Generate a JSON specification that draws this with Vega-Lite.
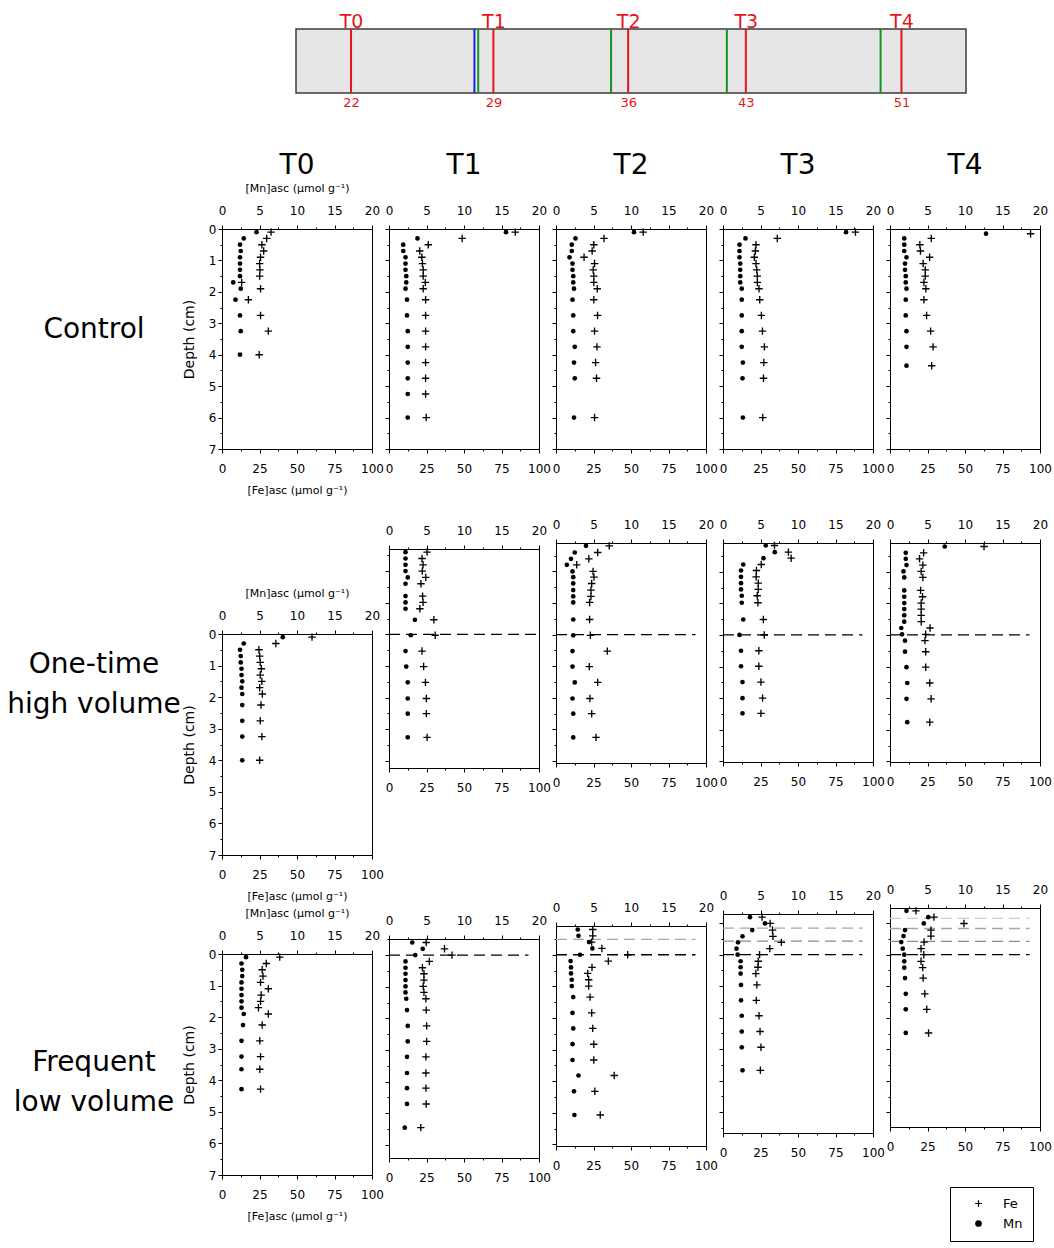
{
"$schema":"https://vega.github.io/schema/vega-lite/v6.json",
"background":"white",
"padding":{"left":0,"top":11,"right":0,"bottom":0},
"datasets":{
"events":[
{"kind":"sample","pos":22.0},{"kind":"sample","pos":29.5},{"kind":"sample","pos":36.6},{"kind":"sample","pos":42.8},{"kind":"sample","pos":51.0},
{"kind":"high","pos":28.5},
{"kind":"low","pos":28.7},{"kind":"low","pos":35.7},{"kind":"low","pos":41.8},{"kind":"low","pos":49.9}
],
"lines":[
{"p":"O1","d":0,"tone":"k"},{"p":"O2","d":0,"tone":"k"},{"p":"O3","d":0,"tone":"k"},{"p":"O4","d":0,"tone":"k"},
{"p":"F1","d":0,"tone":"k"},
{"p":"F2","d":-0.49,"tone":"g2"},{"p":"F2","d":0,"tone":"k"},
{"p":"F3","d":-0.84,"tone":"g2"},{"p":"F3","d":-0.43,"tone":"g3"},{"p":"F3","d":0,"tone":"k"},
{"p":"F4","d":-1.15,"tone":"g1"},{"p":"F4","d":-0.83,"tone":"g2"},{"p":"F4","d":-0.42,"tone":"g3"},{"p":"F4","d":0,"tone":"k"}
],
"pts":[
{"p":"C0","d":0.1,"mn":4.6,"fe":32.7},{"p":"C0","d":0.3,"mn":2.9,"fe":29.8},{"p":"C0","d":0.5,"mn":2.4,"fe":26.6},{"p":"C0","d":0.7,"mn":2.5,"fe":27.8},{"p":"C0","d":0.9,"mn":2.4,"fe":25.7},{"p":"C0","d":1.1,"mn":2.4,"fe":25.1},{"p":"C0","d":1.3,"mn":2.4,"fe":25.3},{"p":"C0","d":1.5,"mn":2.4,"fe":25.1},{"p":"C0","d":1.7,"mn":1.5,"fe":13.1},{"p":"C0","d":1.9,"mn":2.5,"fe":25.7},{"p":"C0","d":2.25,"mn":1.8,"fe":17.6},{"p":"C0","d":2.75,"mn":2.4,"fe":25.7},{"p":"C0","d":3.25,"mn":2.5,"fe":30.9},{"p":"C0","d":4.0,"mn":2.4,"fe":24.8},
{"p":"C1","d":0.1,"mn":15.6,"fe":84.2},{"p":"C1","d":0.3,"mn":3.8,"fe":48.8},{"p":"C1","d":0.5,"mn":1.9,"fe":26.2},{"p":"C1","d":0.7,"mn":1.9,"fe":20.5},{"p":"C1","d":0.9,"mn":2.2,"fe":21.9},{"p":"C1","d":1.1,"mn":2.2,"fe":22.3},{"p":"C1","d":1.3,"mn":2.2,"fe":22.8},{"p":"C1","d":1.5,"mn":2.3,"fe":22.8},{"p":"C1","d":1.7,"mn":2.3,"fe":24.2},{"p":"C1","d":1.9,"mn":2.2,"fe":22.8},{"p":"C1","d":2.25,"mn":2.4,"fe":24.4},{"p":"C1","d":2.75,"mn":2.4,"fe":24.4},{"p":"C1","d":3.25,"mn":2.5,"fe":24.4},{"p":"C1","d":3.75,"mn":2.5,"fe":24.4},{"p":"C1","d":4.25,"mn":2.5,"fe":24.4},{"p":"C1","d":4.75,"mn":2.5,"fe":24.4},{"p":"C1","d":5.25,"mn":2.5,"fe":24.4},{"p":"C1","d":6.0,"mn":2.5,"fe":24.8},
{"p":"C2","d":0.1,"mn":10.4,"fe":58.1},{"p":"C2","d":0.3,"mn":2.6,"fe":32.0},{"p":"C2","d":0.5,"mn":2.1,"fe":25.2},{"p":"C2","d":0.7,"mn":2.1,"fe":24.1},{"p":"C2","d":0.9,"mn":1.8,"fe":18.7},{"p":"C2","d":1.1,"mn":2.2,"fe":25.7},{"p":"C2","d":1.3,"mn":2.2,"fe":24.8},{"p":"C2","d":1.5,"mn":2.3,"fe":25.2},{"p":"C2","d":1.7,"mn":2.3,"fe":25.2},{"p":"C2","d":1.9,"mn":2.4,"fe":27.5},{"p":"C2","d":2.25,"mn":2.2,"fe":25.2},{"p":"C2","d":2.75,"mn":2.3,"fe":27.7},{"p":"C2","d":3.25,"mn":2.3,"fe":25.7},{"p":"C2","d":3.75,"mn":2.5,"fe":27.3},{"p":"C2","d":4.25,"mn":2.4,"fe":26.4},{"p":"C2","d":4.75,"mn":2.5,"fe":27.0},{"p":"C2","d":6.0,"mn":2.4,"fe":25.7},
{"p":"C3","d":0.1,"mn":16.4,"fe":88.3},{"p":"C3","d":0.3,"mn":3.0,"fe":36.2},{"p":"C3","d":0.5,"mn":2.2,"fe":22.0},{"p":"C3","d":0.7,"mn":2.2,"fe":21.6},{"p":"C3","d":0.9,"mn":2.2,"fe":20.9},{"p":"C3","d":1.1,"mn":2.3,"fe":22.0},{"p":"C3","d":1.3,"mn":2.3,"fe":22.5},{"p":"C3","d":1.5,"mn":2.3,"fe":22.9},{"p":"C3","d":1.7,"mn":2.3,"fe":22.9},{"p":"C3","d":1.9,"mn":2.5,"fe":24.0},{"p":"C3","d":2.25,"mn":2.5,"fe":24.5},{"p":"C3","d":2.75,"mn":2.5,"fe":25.6},{"p":"C3","d":3.25,"mn":2.5,"fe":26.3},{"p":"C3","d":3.75,"mn":2.5,"fe":27.6},{"p":"C3","d":4.25,"mn":2.65,"fe":27.2},{"p":"C3","d":4.75,"mn":2.6,"fe":27.0},{"p":"C3","d":6.0,"mn":2.65,"fe":26.5},
{"p":"C4","d":0.15,"mn":12.8,"fe":93.7},{"p":"C4","d":0.3,"mn":1.9,"fe":27.5},{"p":"C4","d":0.5,"mn":1.9,"fe":19.9},{"p":"C4","d":0.7,"mn":1.9,"fe":20.3},{"p":"C4","d":0.9,"mn":2.2,"fe":26.4},{"p":"C4","d":1.1,"mn":2.0,"fe":22.1},{"p":"C4","d":1.3,"mn":2.0,"fe":23.5},{"p":"C4","d":1.5,"mn":2.1,"fe":23.5},{"p":"C4","d":1.7,"mn":2.1,"fe":22.6},{"p":"C4","d":1.9,"mn":2.2,"fe":23.9},{"p":"C4","d":2.25,"mn":2.1,"fe":22.6},{"p":"C4","d":2.75,"mn":2.1,"fe":24.4},{"p":"C4","d":3.25,"mn":2.2,"fe":27.1},{"p":"C4","d":3.75,"mn":2.2,"fe":28.7},{"p":"C4","d":4.35,"mn":2.2,"fe":27.8},
{"p":"O0","d":0.1,"mn":8.1,"fe":60.0},{"p":"O0","d":0.3,"mn":2.9,"fe":35.9},{"p":"O0","d":0.5,"mn":2.4,"fe":24.6},{"p":"O0","d":0.7,"mn":2.5,"fe":25.1},{"p":"O0","d":0.9,"mn":2.5,"fe":25.5},{"p":"O0","d":1.1,"mn":2.6,"fe":26.2},{"p":"O0","d":1.3,"mn":2.6,"fe":25.5},{"p":"O0","d":1.5,"mn":2.7,"fe":26.6},{"p":"O0","d":1.7,"mn":2.6,"fe":25.1},{"p":"O0","d":1.9,"mn":2.7,"fe":26.9},{"p":"O0","d":2.25,"mn":2.7,"fe":26.0},{"p":"O0","d":2.75,"mn":2.7,"fe":25.5},{"p":"O0","d":3.25,"mn":2.7,"fe":26.6},{"p":"O0","d":4.0,"mn":2.7,"fe":25.1},
{"p":"O1","d":-2.6,"mn":2.2,"fe":25.4},{"p":"O1","d":-2.4,"mn":2.2,"fe":22.0},{"p":"O1","d":-2.2,"mn":2.2,"fe":22.7},{"p":"O1","d":-2.0,"mn":2.2,"fe":22.2},{"p":"O1","d":-1.8,"mn":2.5,"fe":24.5},{"p":"O1","d":-1.6,"mn":2.2,"fe":21.3},{"p":"O1","d":-1.21,"mn":2.2,"fe":22.4},{"p":"O1","d":-1.01,"mn":2.2,"fe":22.7},{"p":"O1","d":-0.81,"mn":2.2,"fe":20.6},{"p":"O1","d":-0.46,"mn":3.45,"fe":29.9},{"p":"O1","d":0.03,"mn":2.9,"fe":30.8},{"p":"O1","d":0.53,"mn":2.2,"fe":22.0},{"p":"O1","d":1.02,"mn":2.3,"fe":23.1},{"p":"O1","d":1.52,"mn":2.5,"fe":24.3},{"p":"O1","d":2.03,"mn":2.5,"fe":24.9},{"p":"O1","d":2.51,"mn":2.5,"fe":24.9},{"p":"O1","d":3.26,"mn":2.5,"fe":25.4},
{"p":"O2","d":-2.81,"mn":4.0,"fe":35.5},{"p":"O2","d":-2.6,"mn":2.5,"fe":27.8},{"p":"O2","d":-2.4,"mn":2.0,"fe":21.9},{"p":"O2","d":-2.21,"mn":1.45,"fe":13.8},{"p":"O2","d":-2.0,"mn":2.2,"fe":24.7},{"p":"O2","d":-1.82,"mn":2.3,"fe":25.3},{"p":"O2","d":-1.62,"mn":2.3,"fe":23.8},{"p":"O2","d":-1.41,"mn":2.3,"fe":23.3},{"p":"O2","d":-1.21,"mn":2.3,"fe":23.3},{"p":"O2","d":-1.02,"mn":2.3,"fe":22.4},{"p":"O2","d":-0.48,"mn":2.3,"fe":22.4},{"p":"O2","d":0.02,"mn":2.3,"fe":22.9},{"p":"O2","d":0.52,"mn":2.2,"fe":34.2},{"p":"O2","d":1.01,"mn":2.2,"fe":22.2},{"p":"O2","d":1.51,"mn":2.5,"fe":27.8},{"p":"O2","d":2.02,"mn":2.2,"fe":22.6},{"p":"O2","d":2.5,"mn":2.3,"fe":23.8},{"p":"O2","d":3.25,"mn":2.3,"fe":26.7},
{"p":"O3","d":-2.83,"mn":5.7,"fe":34.3},{"p":"O3","d":-2.62,"mn":6.9,"fe":43.6},{"p":"O3","d":-2.43,"mn":5.4,"fe":45.4},{"p":"O3","d":-2.23,"mn":2.7,"fe":25.5},{"p":"O3","d":-2.04,"mn":2.4,"fe":22.3},{"p":"O3","d":-1.84,"mn":2.4,"fe":22.1},{"p":"O3","d":-1.64,"mn":2.4,"fe":23.5},{"p":"O3","d":-1.44,"mn":2.4,"fe":23.5},{"p":"O3","d":-1.24,"mn":2.5,"fe":22.8},{"p":"O3","d":-1.02,"mn":2.5,"fe":23.3},{"p":"O3","d":-0.49,"mn":2.7,"fe":26.9},{"p":"O3","d":0.0,"mn":2.2,"fe":27.5},{"p":"O3","d":0.5,"mn":2.4,"fe":23.9},{"p":"O3","d":0.99,"mn":2.4,"fe":23.9},{"p":"O3","d":1.49,"mn":2.6,"fe":25.3},{"p":"O3","d":2.0,"mn":2.6,"fe":26.4},{"p":"O3","d":2.48,"mn":2.6,"fe":25.3},
{"p":"O4","d":-2.8,"mn":7.3,"fe":62.7},{"p":"O4","d":-2.6,"mn":2.1,"fe":22.4},{"p":"O4","d":-2.41,"mn":2.1,"fe":19.7},{"p":"O4","d":-2.21,"mn":2.2,"fe":21.9},{"p":"O4","d":-2.01,"mn":1.8,"fe":20.8},{"p":"O4","d":-1.82,"mn":1.9,"fe":21.9},{"p":"O4","d":-1.41,"mn":1.9,"fe":20.4},{"p":"O4","d":-1.21,"mn":1.9,"fe":21.7},{"p":"O4","d":-1.01,"mn":1.9,"fe":20.8},{"p":"O4","d":-0.82,"mn":1.9,"fe":20.8},{"p":"O4","d":-0.62,"mn":1.9,"fe":20.8},{"p":"O4","d":-0.42,"mn":1.9,"fe":20.8},{"p":"O4","d":-0.22,"mn":1.5,"fe":26.7},{"p":"O4","d":-0.02,"mn":1.6,"fe":23.8},{"p":"O4","d":0.18,"mn":2.0,"fe":23.3},{"p":"O4","d":0.53,"mn":2.0,"fe":23.8},{"p":"O4","d":1.02,"mn":2.2,"fe":23.8},{"p":"O4","d":1.52,"mn":2.3,"fe":26.5},{"p":"O4","d":2.02,"mn":2.2,"fe":27.4},{"p":"O4","d":2.76,"mn":2.3,"fe":26.5},
{"p":"F0","d":0.1,"mn":3.2,"fe":38.5},{"p":"F0","d":0.3,"mn":2.6,"fe":29.5},{"p":"F0","d":0.5,"mn":2.7,"fe":26.8},{"p":"F0","d":0.7,"mn":2.7,"fe":27.3},{"p":"F0","d":0.9,"mn":2.6,"fe":25.7},{"p":"F0","d":1.1,"mn":2.6,"fe":30.9},{"p":"F0","d":1.3,"mn":2.6,"fe":26.1},{"p":"F0","d":1.5,"mn":2.6,"fe":25.7},{"p":"F0","d":1.7,"mn":2.6,"fe":24.3},{"p":"F0","d":1.9,"mn":2.9,"fe":30.9},{"p":"F0","d":2.25,"mn":2.8,"fe":26.8},{"p":"F0","d":2.75,"mn":2.6,"fe":25.2},{"p":"F0","d":3.25,"mn":2.6,"fe":25.7},{"p":"F0","d":3.65,"mn":2.6,"fe":25.2},{"p":"F0","d":4.28,"mn":2.6,"fe":25.7},
{"p":"F1","d":-0.4,"mn":3.1,"fe":24.8},{"p":"F1","d":-0.2,"mn":4.5,"fe":37.0},{"p":"F1","d":0.0,"mn":3.5,"fe":42.0},{"p":"F1","d":0.2,"mn":2.2,"fe":26.9},{"p":"F1","d":0.4,"mn":2.2,"fe":22.3},{"p":"F1","d":0.59,"mn":2.2,"fe":23.3},{"p":"F1","d":0.79,"mn":2.2,"fe":23.3},{"p":"F1","d":0.99,"mn":2.2,"fe":22.8},{"p":"F1","d":1.18,"mn":2.2,"fe":23.3},{"p":"F1","d":1.38,"mn":2.3,"fe":24.6},{"p":"F1","d":1.74,"mn":2.4,"fe":24.8},{"p":"F1","d":2.24,"mn":2.5,"fe":25.1},{"p":"F1","d":2.73,"mn":2.5,"fe":25.1},{"p":"F1","d":3.22,"mn":2.4,"fe":24.6},{"p":"F1","d":3.73,"mn":2.4,"fe":24.6},{"p":"F1","d":4.21,"mn":2.4,"fe":24.6},{"p":"F1","d":4.71,"mn":2.4,"fe":24.8},{"p":"F1","d":5.46,"mn":2.1,"fe":21.2},
{"p":"F2","d":-0.8,"mn":2.9,"fe":24.5},{"p":"F2","d":-0.6,"mn":3.0,"fe":24.5},{"p":"F2","d":-0.4,"mn":4.4,"fe":23.8},{"p":"F2","d":-0.2,"mn":4.85,"fe":30.6},{"p":"F2","d":0.0,"mn":3.2,"fe":47.8},{"p":"F2","d":0.2,"mn":1.95,"fe":34.9},{"p":"F2","d":0.4,"mn":2.0,"fe":24.0},{"p":"F2","d":0.59,"mn":2.0,"fe":21.1},{"p":"F2","d":0.79,"mn":2.1,"fe":21.8},{"p":"F2","d":0.99,"mn":2.1,"fe":21.8},{"p":"F2","d":1.34,"mn":2.3,"fe":22.7},{"p":"F2","d":1.84,"mn":2.2,"fe":23.8},{"p":"F2","d":2.33,"mn":2.3,"fe":24.5},{"p":"F2","d":2.83,"mn":2.2,"fe":25.2},{"p":"F2","d":3.33,"mn":2.2,"fe":25.2},{"p":"F2","d":3.82,"mn":3.0,"fe":38.8},{"p":"F2","d":4.32,"mn":2.4,"fe":25.9},{"p":"F2","d":5.07,"mn":2.45,"fe":29.5},
{"p":"F3","d":-1.19,"mn":3.6,"fe":26.0},{"p":"F3","d":-0.99,"mn":5.6,"fe":31.4},{"p":"F3","d":-0.78,"mn":3.9,"fe":33.0},{"p":"F3","d":-0.58,"mn":2.6,"fe":33.3},{"p":"F3","d":-0.39,"mn":2.0,"fe":38.9},{"p":"F3","d":-0.19,"mn":1.8,"fe":31.2},{"p":"F3","d":0.0,"mn":1.95,"fe":24.4},{"p":"F3","d":0.21,"mn":2.35,"fe":23.5},{"p":"F3","d":0.4,"mn":2.35,"fe":23.3},{"p":"F3","d":0.6,"mn":2.35,"fe":21.9},{"p":"F3","d":0.96,"mn":2.4,"fe":22.6},{"p":"F3","d":1.45,"mn":2.4,"fe":22.2},{"p":"F3","d":1.94,"mn":2.5,"fe":24.0},{"p":"F3","d":2.44,"mn":2.5,"fe":24.7},{"p":"F3","d":2.94,"mn":2.5,"fe":25.3},{"p":"F3","d":3.67,"mn":2.6,"fe":24.9},
{"p":"F4","d":-1.39,"mn":2.2,"fe":17.3},{"p":"F4","d":-1.19,"mn":5.1,"fe":29.3},{"p":"F4","d":-0.99,"mn":4.5,"fe":49.3},{"p":"F4","d":-0.78,"mn":2.0,"fe":27.3},{"p":"F4","d":-0.59,"mn":1.8,"fe":27.3},{"p":"F4","d":-0.4,"mn":1.5,"fe":22.7},{"p":"F4","d":-0.19,"mn":1.7,"fe":20.7},{"p":"F4","d":0.0,"mn":1.9,"fe":22.5},{"p":"F4","d":0.21,"mn":1.9,"fe":20.7},{"p":"F4","d":0.41,"mn":1.9,"fe":21.8},{"p":"F4","d":0.74,"mn":2.0,"fe":22.1},{"p":"F4","d":1.24,"mn":2.1,"fe":23.2},{"p":"F4","d":1.73,"mn":2.1,"fe":24.5},{"p":"F4","d":2.48,"mn":2.1,"fe":25.7}
]
},
"vconcat":[
{"hconcat":[
 {"width":295,"height":10,"view":{"stroke":null},"data":{"values":[]},"mark":"point"},
 {"width":670,"height":64,"view":{"fill":"#e6e6e6","stroke":"#3c3c3c","strokeWidth":1.5},
  "data":{"name":"events"},
  "encoding":{"y":{"datum":0,"type":"quantitative","scale":{"domain":[0,1],"nice":false},"axis":null},"y2":{"datum":1}},
  "layer":[
   {"transform":[{"filter":"datum.kind==='high'"}],"mark":{"type":"rule","color":"#1f1fe6","strokeWidth":2},
    "encoding":{"x":{"field":"pos","type":"quantitative","scale":{"domain":[19.1,54.4],"nice":false,"zero":false},"axis":null}}},
   {"transform":[{"filter":"datum.kind==='low'"}],"mark":{"type":"rule","color":"#14961e","strokeWidth":2},
    "encoding":{"x":{"field":"pos","type":"quantitative","scale":{"domain":[19.1,54.4],"nice":false,"zero":false},
     "axis":{"orient":"bottom","values":[22,29.5,36.6,42.8,51],"labelExpr":"datum.value < 25 ? '22' : datum.value < 33 ? '29' : datum.value < 40 ? '36' : datum.value < 47 ? '43' : '51'","labelColor":"#e8141b","labelFontSize":13,"ticks":false,"domain":false,"labelPadding":3,"title":null}}}},
   {"transform":[{"filter":"datum.kind==='sample'"}],"mark":{"type":"rule","color":"#e8141b","strokeWidth":2},
    "encoding":{"x":{"field":"pos","type":"quantitative","scale":{"domain":[19.1,54.4],"nice":false,"zero":false},
     "axis":{"orient":"top","values":[22,29.5,36.6,42.8,51],"labelExpr":"datum.value < 25 ? 'T0' : datum.value < 33 ? 'T1' : datum.value < 40 ? 'T2' : datum.value < 47 ? 'T3' : 'T4'","labelColor":"#e8141b","labelFontSize":19,"labelBaseline":"alphabetic","ticks":false,"domain":false,"labelPadding":2,"title":null}}}}
  ],
  "resolve":{"axis":{"x":"independent"}}}
],"spacing":0},
{"hconcat":[
 {"vconcat":[
  {"width":180,"height":202,"view":{"stroke":null},"data":{"values":[{"r":"Control"}]},"mark":{"type":"text","fontSize":28,"font":"DejaVu Sans","color":"black","dx":4},"encoding":{"text":{"field":"r"}}},
  {"width":180,"height":468,"view":{"stroke":null},"data":{"values":[{"r":"One-time\nhigh volume"}]},"mark":{"type":"text","fontSize":28,"font":"DejaVu Sans","color":"black","lineBreak":"\n","lineHeight":40,"dx":4},"encoding":{"text":{"field":"r"}}},
  {"width":180,"height":328,"view":{"stroke":null},"data":{"values":[{"r":"Frequent\nlow volume"}]},"mark":{"type":"text","fontSize":28,"font":"DejaVu Sans","color":"black","lineBreak":"\n","lineHeight":40,"dx":4},"encoding":{"text":{"field":"r"}}}
 ],"spacing":0,"bounds":"flush"},
 {"vconcat":[
  {"width":150,"height":220,"title":"T0","data":{"name":"pts"},"transform":[{"filter":"datum.p==='C0'"}],
   "encoding":{"y":{"field":"d","type":"quantitative","scale":{"domain":[0,7],"reverse":true,"nice":false,"zero":false},"axis":{"values":[0,0.5,1,1.5,2,2.5,3,3.5,4,4.5,5,5.5,6,6.5,7],"labelExpr":"datum.value % 1 === 0 ? format(datum.value, 'd') : ''","tickSize":{"condition":{"test":"datum.value % 1 === 0","value":4},"value":2},"title":"Depth (cm)","titleFontSize":14,"titlePadding":12,"labelPadding":2}}},
   "layer":[
    {"mark":{"type":"point","shape":"circle","filled":true,"size":22,"color":"black","opacity":1},"encoding":{"x":{"field":"mn","type":"quantitative","scale":{"domain":[0,20],"nice":false,"zero":false},"axis":{"orient":"top","values":[0,2.5,5,7.5,10,12.5,15,17.5,20],"labelExpr":"datum.value % 5 === 0 ? datum.label : ''","tickSize":{"condition":{"test":"datum.value % 5 === 0","value":4},"value":2},"labelPadding":8,"title":"[Mn]asc (µmol g⁻¹)","titlePadding":11}}}},
    {"mark":{"type":"point","shape":"M-1,-0.18H-0.18V-1H0.18V-0.18H1V0.18H0.18V1H-0.18V0.18H-1Z","filled":true,"size":55,"color":"black","opacity":1},"encoding":{"x":{"field":"fe","type":"quantitative","scale":{"domain":[0,100],"nice":false,"zero":false},"axis":{"orient":"bottom","values":[0,12.5,25,37.5,50,62.5,75,87.5,100],"labelExpr":"datum.value % 25 === 0 ? datum.label : ''","tickSize":{"condition":{"test":"datum.value % 25 === 0","value":4},"value":2},"labelPadding":10,"title":"[Fe]asc (µmol g⁻¹)","titlePadding":10}}}}
   ],"resolve":{"scale":{"x":"independent"}}},
  {"width":150,"height":185,"view":{"stroke":null},"data":{"values":[]},"mark":"point"},
  {"width":150,"height":221,"data":{"name":"pts"},"transform":[{"filter":"datum.p==='O0'"}],
   "encoding":{"y":{"field":"d","type":"quantitative","scale":{"domain":[0,7],"reverse":true,"nice":false,"zero":false},"axis":{"values":[0,0.5,1,1.5,2,2.5,3,3.5,4,4.5,5,5.5,6,6.5,7],"labelExpr":"datum.value % 1 === 0 ? format(datum.value, 'd') : ''","tickSize":{"condition":{"test":"datum.value % 1 === 0","value":4},"value":2},"title":"Depth (cm)","titleFontSize":14,"titlePadding":12,"labelPadding":2}}},
   "layer":[
    {"mark":{"type":"point","shape":"circle","filled":true,"size":22,"color":"black","opacity":1},"encoding":{"x":{"field":"mn","type":"quantitative","scale":{"domain":[0,20],"nice":false,"zero":false},"axis":{"orient":"top","values":[0,2.5,5,7.5,10,12.5,15,17.5,20],"labelExpr":"datum.value % 5 === 0 ? datum.label : ''","tickSize":{"condition":{"test":"datum.value % 5 === 0","value":4},"value":2},"labelPadding":8,"title":"[Mn]asc (µmol g⁻¹)","titlePadding":11}}}},
    {"mark":{"type":"point","shape":"M-1,-0.18H-0.18V-1H0.18V-0.18H1V0.18H0.18V1H-0.18V0.18H-1Z","filled":true,"size":55,"color":"black","opacity":1},"encoding":{"x":{"field":"fe","type":"quantitative","scale":{"domain":[0,100],"nice":false,"zero":false},"axis":{"orient":"bottom","values":[0,12.5,25,37.5,50,62.5,75,87.5,100],"labelExpr":"datum.value % 25 === 0 ? datum.label : ''","tickSize":{"condition":{"test":"datum.value % 25 === 0","value":4},"value":2},"labelPadding":10,"title":"[Fe]asc (µmol g⁻¹)","titlePadding":10}}}}
   ],"resolve":{"scale":{"x":"independent"}}},
  {"width":150,"height":99,"view":{"stroke":null},"data":{"values":[]},"mark":"point"},
  {"width":150,"height":221,"data":{"name":"pts"},"transform":[{"filter":"datum.p==='F0'"}],
   "encoding":{"y":{"field":"d","type":"quantitative","scale":{"domain":[0,7],"reverse":true,"nice":false,"zero":false},"axis":{"values":[0,0.5,1,1.5,2,2.5,3,3.5,4,4.5,5,5.5,6,6.5,7],"labelExpr":"datum.value % 1 === 0 ? format(datum.value, 'd') : ''","tickSize":{"condition":{"test":"datum.value % 1 === 0","value":4},"value":2},"title":"Depth (cm)","titleFontSize":14,"titlePadding":12,"labelPadding":2}}},
   "layer":[
    {"mark":{"type":"point","shape":"circle","filled":true,"size":22,"color":"black","opacity":1},"encoding":{"x":{"field":"mn","type":"quantitative","scale":{"domain":[0,20],"nice":false,"zero":false},"axis":{"orient":"top","values":[0,2.5,5,7.5,10,12.5,15,17.5,20],"labelExpr":"datum.value % 5 === 0 ? datum.label : ''","tickSize":{"condition":{"test":"datum.value % 5 === 0","value":4},"value":2},"labelPadding":8,"title":"[Mn]asc (µmol g⁻¹)","titlePadding":11}}}},
    {"mark":{"type":"point","shape":"M-1,-0.18H-0.18V-1H0.18V-0.18H1V0.18H0.18V1H-0.18V0.18H-1Z","filled":true,"size":55,"color":"black","opacity":1},"encoding":{"x":{"field":"fe","type":"quantitative","scale":{"domain":[0,100],"nice":false,"zero":false},"axis":{"orient":"bottom","values":[0,12.5,25,37.5,50,62.5,75,87.5,100],"labelExpr":"datum.value % 25 === 0 ? datum.label : ''","tickSize":{"condition":{"test":"datum.value % 25 === 0","value":4},"value":2},"labelPadding":10,"title":"[Fe]asc (µmol g⁻¹)","titlePadding":10}}}}
   ],"resolve":{"scale":{"x":"independent"}}}
 ],"spacing":0,"bounds":"flush"},
 {"vconcat":[
  {"width":150,"height":220,"title":"T1","data":{"name":"pts"},"transform":[{"filter":"datum.p==='C1'"}],
   "encoding":{"y":{"field":"d","type":"quantitative","scale":{"domain":[0,7],"reverse":true,"nice":false,"zero":false},"axis":{"values":[0,0.5,1,1.5,2,2.5,3,3.5,4,4.5,5,5.5,6,6.5,7],"labels":false,"tickSize":{"condition":{"test":"datum.value % 1 === 0","value":4},"value":2},"title":null}}},
   "layer":[
    {"mark":{"type":"point","shape":"circle","filled":true,"size":22,"color":"black","opacity":1},"encoding":{"x":{"field":"mn","type":"quantitative","scale":{"domain":[0,20],"nice":false,"zero":false},"axis":{"orient":"top","values":[0,2.5,5,7.5,10,12.5,15,17.5,20],"labelExpr":"datum.value % 5 === 0 ? datum.label : ''","tickSize":{"condition":{"test":"datum.value % 5 === 0","value":4},"value":2},"labelPadding":8,"title":"[Mn]asc (µmol g⁻¹)","titleOpacity":0,"titlePadding":11}}}},
    {"mark":{"type":"point","shape":"M-1,-0.18H-0.18V-1H0.18V-0.18H1V0.18H0.18V1H-0.18V0.18H-1Z","filled":true,"size":55,"color":"black","opacity":1},"encoding":{"x":{"field":"fe","type":"quantitative","scale":{"domain":[0,100],"nice":false,"zero":false},"axis":{"orient":"bottom","values":[0,12.5,25,37.5,50,62.5,75,87.5,100],"labelExpr":"datum.value % 25 === 0 ? datum.label : ''","tickSize":{"condition":{"test":"datum.value % 25 === 0","value":4},"value":2},"labelPadding":10,"title":null}}}}
   ],"resolve":{"scale":{"x":"independent"}}},
  {"width":150,"height":100,"view":{"stroke":null},"data":{"values":[]},"mark":"point"},
  {"width":150,"height":219,"data":{"name":"pts"},"transform":[{"filter":"datum.p==='O1'"}],
   "encoding":{"y":{"field":"d","type":"quantitative","scale":{"domain":[-2.7,4.23],"reverse":true,"nice":false,"zero":false},"axis":{"values":[-2.5,-2,-1.5,-1,-0.5,0,0.5,1,1.5,2,2.5,3,3.5,4],"labels":false,"tickSize":{"condition":{"test":"datum.value % 1 === 0","value":4},"value":2},"title":null}}},
   "layer":[
    {"data":{"name":"lines"},"transform":[{"filter":"datum.p==='O1'"}],"mark":{"type":"rule","strokeDash":[11,6],"strokeWidth":1.3},"encoding":{"x":{"datum":0,"type":"quantitative","scale":{"domain":[0,100],"nice":false,"zero":false},"axis":null},"x2":{"datum":100},"color":{"field":"tone","type":"nominal","scale":{"domain":["k","g3","g2","g1"],"range":["#000000","#8c8c8c","#a6a6a6","#cccccc"]},"legend":null}}},
    {"mark":{"type":"point","shape":"circle","filled":true,"size":22,"color":"black","opacity":1},"encoding":{"x":{"field":"mn","type":"quantitative","scale":{"domain":[0,20],"nice":false,"zero":false},"axis":{"orient":"top","values":[0,2.5,5,7.5,10,12.5,15,17.5,20],"labelExpr":"datum.value % 5 === 0 ? datum.label : ''","tickSize":{"condition":{"test":"datum.value % 5 === 0","value":4},"value":2},"labelPadding":8,"title":null}}}},
    {"mark":{"type":"point","shape":"M-1,-0.18H-0.18V-1H0.18V-0.18H1V0.18H0.18V1H-0.18V0.18H-1Z","filled":true,"size":55,"color":"black","opacity":1},"encoding":{"x":{"field":"fe","type":"quantitative","scale":{"domain":[0,100],"nice":false,"zero":false},"axis":{"orient":"bottom","values":[0,12.5,25,37.5,50,62.5,75,87.5,100],"labelExpr":"datum.value % 25 === 0 ? datum.label : ''","tickSize":{"condition":{"test":"datum.value % 25 === 0","value":4},"value":2},"labelPadding":10,"title":null}}}}
   ],"resolve":{"scale":{"x":"independent"}}},
  {"width":150,"height":171,"view":{"stroke":null},"data":{"values":[]},"mark":"point"},
  {"width":150,"height":219,"data":{"name":"pts"},"transform":[{"filter":"datum.p==='F1'"}],
   "encoding":{"y":{"field":"d","type":"quantitative","scale":{"domain":[-0.51,6.42],"reverse":true,"nice":false,"zero":false},"axis":{"values":[-0.5,0,0.5,1,1.5,2,2.5,3,3.5,4,4.5,5,5.5,6],"labels":false,"tickSize":{"condition":{"test":"datum.value % 1 === 0","value":4},"value":2},"title":null}}},
   "layer":[
    {"data":{"name":"lines"},"transform":[{"filter":"datum.p==='F1'"}],"mark":{"type":"rule","strokeDash":[11,6],"strokeWidth":1.3},"encoding":{"x":{"datum":0,"type":"quantitative","scale":{"domain":[0,100],"nice":false,"zero":false},"axis":null},"x2":{"datum":93},"color":{"field":"tone","type":"nominal","scale":{"domain":["k","g3","g2","g1"],"range":["#000000","#8c8c8c","#a6a6a6","#cccccc"]},"legend":null}}},
    {"mark":{"type":"point","shape":"circle","filled":true,"size":22,"color":"black","opacity":1},"encoding":{"x":{"field":"mn","type":"quantitative","scale":{"domain":[0,20],"nice":false,"zero":false},"axis":{"orient":"top","values":[0,2.5,5,7.5,10,12.5,15,17.5,20],"labelExpr":"datum.value % 5 === 0 ? datum.label : ''","tickSize":{"condition":{"test":"datum.value % 5 === 0","value":4},"value":2},"labelPadding":8,"title":null}}}},
    {"mark":{"type":"point","shape":"M-1,-0.18H-0.18V-1H0.18V-0.18H1V0.18H0.18V1H-0.18V0.18H-1Z","filled":true,"size":55,"color":"black","opacity":1},"encoding":{"x":{"field":"fe","type":"quantitative","scale":{"domain":[0,100],"nice":false,"zero":false},"axis":{"orient":"bottom","values":[0,12.5,25,37.5,50,62.5,75,87.5,100],"labelExpr":"datum.value % 25 === 0 ? datum.label : ''","tickSize":{"condition":{"test":"datum.value % 25 === 0","value":4},"value":2},"labelPadding":10,"title":null}}}}
   ],"resolve":{"scale":{"x":"independent"}}}
 ],"spacing":0,"bounds":"flush"},
 {"vconcat":[
  {"width":150,"height":220,"title":"T2","data":{"name":"pts"},"transform":[{"filter":"datum.p==='C2'"}],
   "encoding":{"y":{"field":"d","type":"quantitative","scale":{"domain":[0,7],"reverse":true,"nice":false,"zero":false},"axis":{"values":[0,0.5,1,1.5,2,2.5,3,3.5,4,4.5,5,5.5,6,6.5,7],"labels":false,"tickSize":{"condition":{"test":"datum.value % 1 === 0","value":4},"value":2},"title":null}}},
   "layer":[
    {"mark":{"type":"point","shape":"circle","filled":true,"size":22,"color":"black","opacity":1},"encoding":{"x":{"field":"mn","type":"quantitative","scale":{"domain":[0,20],"nice":false,"zero":false},"axis":{"orient":"top","values":[0,2.5,5,7.5,10,12.5,15,17.5,20],"labelExpr":"datum.value % 5 === 0 ? datum.label : ''","tickSize":{"condition":{"test":"datum.value % 5 === 0","value":4},"value":2},"labelPadding":8,"title":"[Mn]asc (µmol g⁻¹)","titleOpacity":0,"titlePadding":11}}}},
    {"mark":{"type":"point","shape":"M-1,-0.18H-0.18V-1H0.18V-0.18H1V0.18H0.18V1H-0.18V0.18H-1Z","filled":true,"size":55,"color":"black","opacity":1},"encoding":{"x":{"field":"fe","type":"quantitative","scale":{"domain":[0,100],"nice":false,"zero":false},"axis":{"orient":"bottom","values":[0,12.5,25,37.5,50,62.5,75,87.5,100],"labelExpr":"datum.value % 25 === 0 ? datum.label : ''","tickSize":{"condition":{"test":"datum.value % 25 === 0","value":4},"value":2},"labelPadding":10,"title":null}}}}
   ],"resolve":{"scale":{"x":"independent"}}},
  {"width":150,"height":94,"view":{"stroke":null},"data":{"values":[]},"mark":"point"},
  {"width":150,"height":220,"data":{"name":"pts"},"transform":[{"filter":"datum.p==='O2'"}],
   "encoding":{"y":{"field":"d","type":"quantitative","scale":{"domain":[-2.9,4.06],"reverse":true,"nice":false,"zero":false},"axis":{"values":[-2.5,-2,-1.5,-1,-0.5,0,0.5,1,1.5,2,2.5,3,3.5,4],"labels":false,"tickSize":{"condition":{"test":"datum.value % 1 === 0","value":4},"value":2},"title":null}}},
   "layer":[
    {"data":{"name":"lines"},"transform":[{"filter":"datum.p==='O2'"}],"mark":{"type":"rule","strokeDash":[11,6],"strokeWidth":1.3},"encoding":{"x":{"datum":0,"type":"quantitative","scale":{"domain":[0,100],"nice":false,"zero":false},"axis":null},"x2":{"datum":93},"color":{"field":"tone","type":"nominal","scale":{"domain":["k","g3","g2","g1"],"range":["#000000","#8c8c8c","#a6a6a6","#cccccc"]},"legend":null}}},
    {"mark":{"type":"point","shape":"circle","filled":true,"size":22,"color":"black","opacity":1},"encoding":{"x":{"field":"mn","type":"quantitative","scale":{"domain":[0,20],"nice":false,"zero":false},"axis":{"orient":"top","values":[0,2.5,5,7.5,10,12.5,15,17.5,20],"labelExpr":"datum.value % 5 === 0 ? datum.label : ''","tickSize":{"condition":{"test":"datum.value % 5 === 0","value":4},"value":2},"labelPadding":8,"title":null}}}},
    {"mark":{"type":"point","shape":"M-1,-0.18H-0.18V-1H0.18V-0.18H1V0.18H0.18V1H-0.18V0.18H-1Z","filled":true,"size":55,"color":"black","opacity":1},"encoding":{"x":{"field":"fe","type":"quantitative","scale":{"domain":[0,100],"nice":false,"zero":false},"axis":{"orient":"bottom","values":[0,12.5,25,37.5,50,62.5,75,87.5,100],"labelExpr":"datum.value % 25 === 0 ? datum.label : ''","tickSize":{"condition":{"test":"datum.value % 25 === 0","value":4},"value":2},"labelPadding":10,"title":null}}}}
   ],"resolve":{"scale":{"x":"independent"}}},
  {"width":150,"height":163,"view":{"stroke":null},"data":{"values":[]},"mark":"point"},
  {"width":150,"height":220,"data":{"name":"pts"},"transform":[{"filter":"datum.p==='F2'"}],
   "encoding":{"y":{"field":"d","type":"quantitative","scale":{"domain":[-0.91,6.05],"reverse":true,"nice":false,"zero":false},"axis":{"values":[-0.5,0,0.5,1,1.5,2,2.5,3,3.5,4,4.5,5,5.5,6],"labels":false,"tickSize":{"condition":{"test":"datum.value % 1 === 0","value":4},"value":2},"title":null}}},
   "layer":[
    {"data":{"name":"lines"},"transform":[{"filter":"datum.p==='F2'"}],"mark":{"type":"rule","strokeDash":[11,6],"strokeWidth":1.3},"encoding":{"x":{"datum":0,"type":"quantitative","scale":{"domain":[0,100],"nice":false,"zero":false},"axis":null},"x2":{"datum":93},"color":{"field":"tone","type":"nominal","scale":{"domain":["k","g3","g2","g1"],"range":["#000000","#8c8c8c","#a6a6a6","#cccccc"]},"legend":null}}},
    {"mark":{"type":"point","shape":"circle","filled":true,"size":22,"color":"black","opacity":1},"encoding":{"x":{"field":"mn","type":"quantitative","scale":{"domain":[0,20],"nice":false,"zero":false},"axis":{"orient":"top","values":[0,2.5,5,7.5,10,12.5,15,17.5,20],"labelExpr":"datum.value % 5 === 0 ? datum.label : ''","tickSize":{"condition":{"test":"datum.value % 5 === 0","value":4},"value":2},"labelPadding":8,"title":null}}}},
    {"mark":{"type":"point","shape":"M-1,-0.18H-0.18V-1H0.18V-0.18H1V0.18H0.18V1H-0.18V0.18H-1Z","filled":true,"size":55,"color":"black","opacity":1},"encoding":{"x":{"field":"fe","type":"quantitative","scale":{"domain":[0,100],"nice":false,"zero":false},"axis":{"orient":"bottom","values":[0,12.5,25,37.5,50,62.5,75,87.5,100],"labelExpr":"datum.value % 25 === 0 ? datum.label : ''","tickSize":{"condition":{"test":"datum.value % 25 === 0","value":4},"value":2},"labelPadding":10,"title":null}}}}
   ],"resolve":{"scale":{"x":"independent"}}}
 ],"spacing":0,"bounds":"flush"},
 {"vconcat":[
  {"width":150,"height":220,"title":"T3","data":{"name":"pts"},"transform":[{"filter":"datum.p==='C3'"}],
   "encoding":{"y":{"field":"d","type":"quantitative","scale":{"domain":[0,7],"reverse":true,"nice":false,"zero":false},"axis":{"values":[0,0.5,1,1.5,2,2.5,3,3.5,4,4.5,5,5.5,6,6.5,7],"labels":false,"tickSize":{"condition":{"test":"datum.value % 1 === 0","value":4},"value":2},"title":null}}},
   "layer":[
    {"mark":{"type":"point","shape":"circle","filled":true,"size":22,"color":"black","opacity":1},"encoding":{"x":{"field":"mn","type":"quantitative","scale":{"domain":[0,20],"nice":false,"zero":false},"axis":{"orient":"top","values":[0,2.5,5,7.5,10,12.5,15,17.5,20],"labelExpr":"datum.value % 5 === 0 ? datum.label : ''","tickSize":{"condition":{"test":"datum.value % 5 === 0","value":4},"value":2},"labelPadding":8,"title":"[Mn]asc (µmol g⁻¹)","titleOpacity":0,"titlePadding":11}}}},
    {"mark":{"type":"point","shape":"M-1,-0.18H-0.18V-1H0.18V-0.18H1V0.18H0.18V1H-0.18V0.18H-1Z","filled":true,"size":55,"color":"black","opacity":1},"encoding":{"x":{"field":"fe","type":"quantitative","scale":{"domain":[0,100],"nice":false,"zero":false},"axis":{"orient":"bottom","values":[0,12.5,25,37.5,50,62.5,75,87.5,100],"labelExpr":"datum.value % 25 === 0 ? datum.label : ''","tickSize":{"condition":{"test":"datum.value % 25 === 0","value":4},"value":2},"labelPadding":10,"title":null}}}}
   ],"resolve":{"scale":{"x":"independent"}}},
  {"width":150,"height":94,"view":{"stroke":null},"data":{"values":[]},"mark":"point"},
  {"width":150,"height":219,"data":{"name":"pts"},"transform":[{"filter":"datum.p==='O3'"}],
   "encoding":{"y":{"field":"d","type":"quantitative","scale":{"domain":[-2.91,4.02],"reverse":true,"nice":false,"zero":false},"axis":{"values":[-2.5,-2,-1.5,-1,-0.5,0,0.5,1,1.5,2,2.5,3,3.5,4],"labels":false,"tickSize":{"condition":{"test":"datum.value % 1 === 0","value":4},"value":2},"title":null}}},
   "layer":[
    {"data":{"name":"lines"},"transform":[{"filter":"datum.p==='O3'"}],"mark":{"type":"rule","strokeDash":[11,6],"strokeWidth":1.3},"encoding":{"x":{"datum":0,"type":"quantitative","scale":{"domain":[0,100],"nice":false,"zero":false},"axis":null},"x2":{"datum":93},"color":{"field":"tone","type":"nominal","scale":{"domain":["k","g3","g2","g1"],"range":["#000000","#8c8c8c","#a6a6a6","#cccccc"]},"legend":null}}},
    {"mark":{"type":"point","shape":"circle","filled":true,"size":22,"color":"black","opacity":1},"encoding":{"x":{"field":"mn","type":"quantitative","scale":{"domain":[0,20],"nice":false,"zero":false},"axis":{"orient":"top","values":[0,2.5,5,7.5,10,12.5,15,17.5,20],"labelExpr":"datum.value % 5 === 0 ? datum.label : ''","tickSize":{"condition":{"test":"datum.value % 5 === 0","value":4},"value":2},"labelPadding":8,"title":null}}}},
    {"mark":{"type":"point","shape":"M-1,-0.18H-0.18V-1H0.18V-0.18H1V0.18H0.18V1H-0.18V0.18H-1Z","filled":true,"size":55,"color":"black","opacity":1},"encoding":{"x":{"field":"fe","type":"quantitative","scale":{"domain":[0,100],"nice":false,"zero":false},"axis":{"orient":"bottom","values":[0,12.5,25,37.5,50,62.5,75,87.5,100],"labelExpr":"datum.value % 25 === 0 ? datum.label : ''","tickSize":{"condition":{"test":"datum.value % 25 === 0","value":4},"value":2},"labelPadding":10,"title":null}}}}
   ],"resolve":{"scale":{"x":"independent"}}},
  {"width":150,"height":152,"view":{"stroke":null},"data":{"values":[]},"mark":"point"},
  {"width":150,"height":219,"data":{"name":"pts"},"transform":[{"filter":"datum.p==='F3'"}],
   "encoding":{"y":{"field":"d","type":"quantitative","scale":{"domain":[-1.29,5.66],"reverse":true,"nice":false,"zero":false},"axis":{"values":[-1,-0.5,0,0.5,1,1.5,2,2.5,3,3.5,4,4.5,5,5.5],"labels":false,"tickSize":{"condition":{"test":"datum.value % 1 === 0","value":4},"value":2},"title":null}}},
   "layer":[
    {"data":{"name":"lines"},"transform":[{"filter":"datum.p==='F3'"}],"mark":{"type":"rule","strokeDash":[11,6],"strokeWidth":1.3},"encoding":{"x":{"datum":0,"type":"quantitative","scale":{"domain":[0,100],"nice":false,"zero":false},"axis":null},"x2":{"datum":93},"color":{"field":"tone","type":"nominal","scale":{"domain":["k","g3","g2","g1"],"range":["#000000","#8c8c8c","#a6a6a6","#cccccc"]},"legend":null}}},
    {"mark":{"type":"point","shape":"circle","filled":true,"size":22,"color":"black","opacity":1},"encoding":{"x":{"field":"mn","type":"quantitative","scale":{"domain":[0,20],"nice":false,"zero":false},"axis":{"orient":"top","values":[0,2.5,5,7.5,10,12.5,15,17.5,20],"labelExpr":"datum.value % 5 === 0 ? datum.label : ''","tickSize":{"condition":{"test":"datum.value % 5 === 0","value":4},"value":2},"labelPadding":8,"title":null}}}},
    {"mark":{"type":"point","shape":"M-1,-0.18H-0.18V-1H0.18V-0.18H1V0.18H0.18V1H-0.18V0.18H-1Z","filled":true,"size":55,"color":"black","opacity":1},"encoding":{"x":{"field":"fe","type":"quantitative","scale":{"domain":[0,100],"nice":false,"zero":false},"axis":{"orient":"bottom","values":[0,12.5,25,37.5,50,62.5,75,87.5,100],"labelExpr":"datum.value % 25 === 0 ? datum.label : ''","tickSize":{"condition":{"test":"datum.value % 25 === 0","value":4},"value":2},"labelPadding":10,"title":null}}}}
   ],"resolve":{"scale":{"x":"independent"}}}
 ],"spacing":0,"bounds":"flush"},
 {"vconcat":[
  {"width":150,"height":220,"title":"T4","data":{"name":"pts"},"transform":[{"filter":"datum.p==='C4'"}],
   "encoding":{"y":{"field":"d","type":"quantitative","scale":{"domain":[0,7],"reverse":true,"nice":false,"zero":false},"axis":{"values":[0,0.5,1,1.5,2,2.5,3,3.5,4,4.5,5,5.5,6,6.5,7],"labels":false,"tickSize":{"condition":{"test":"datum.value % 1 === 0","value":4},"value":2},"title":null}}},
   "layer":[
    {"mark":{"type":"point","shape":"circle","filled":true,"size":22,"color":"black","opacity":1},"encoding":{"x":{"field":"mn","type":"quantitative","scale":{"domain":[0,20],"nice":false,"zero":false},"axis":{"orient":"top","values":[0,2.5,5,7.5,10,12.5,15,17.5,20],"labelExpr":"datum.value % 5 === 0 ? datum.label : ''","tickSize":{"condition":{"test":"datum.value % 5 === 0","value":4},"value":2},"labelPadding":8,"title":"[Mn]asc (µmol g⁻¹)","titleOpacity":0,"titlePadding":11}}}},
    {"mark":{"type":"point","shape":"M-1,-0.18H-0.18V-1H0.18V-0.18H1V0.18H0.18V1H-0.18V0.18H-1Z","filled":true,"size":55,"color":"black","opacity":1},"encoding":{"x":{"field":"fe","type":"quantitative","scale":{"domain":[0,100],"nice":false,"zero":false},"axis":{"orient":"bottom","values":[0,12.5,25,37.5,50,62.5,75,87.5,100],"labelExpr":"datum.value % 25 === 0 ? datum.label : ''","tickSize":{"condition":{"test":"datum.value % 25 === 0","value":4},"value":2},"labelPadding":10,"title":null}}}}
   ],"resolve":{"scale":{"x":"independent"}}},
  {"width":150,"height":94,"view":{"stroke":null},"data":{"values":[]},"mark":"point"},
  {"width":150,"height":219,"data":{"name":"pts"},"transform":[{"filter":"datum.p==='O4'"}],
   "encoding":{"y":{"field":"d","type":"quantitative","scale":{"domain":[-2.91,4.02],"reverse":true,"nice":false,"zero":false},"axis":{"values":[-2.5,-2,-1.5,-1,-0.5,0,0.5,1,1.5,2,2.5,3,3.5,4],"labels":false,"tickSize":{"condition":{"test":"datum.value % 1 === 0","value":4},"value":2},"title":null}}},
   "layer":[
    {"data":{"name":"lines"},"transform":[{"filter":"datum.p==='O4'"}],"mark":{"type":"rule","strokeDash":[11,6],"strokeWidth":1.3},"encoding":{"x":{"datum":0,"type":"quantitative","scale":{"domain":[0,100],"nice":false,"zero":false},"axis":null},"x2":{"datum":93},"color":{"field":"tone","type":"nominal","scale":{"domain":["k","g3","g2","g1"],"range":["#000000","#8c8c8c","#a6a6a6","#cccccc"]},"legend":null}}},
    {"mark":{"type":"point","shape":"circle","filled":true,"size":22,"color":"black","opacity":1},"encoding":{"x":{"field":"mn","type":"quantitative","scale":{"domain":[0,20],"nice":false,"zero":false},"axis":{"orient":"top","values":[0,2.5,5,7.5,10,12.5,15,17.5,20],"labelExpr":"datum.value % 5 === 0 ? datum.label : ''","tickSize":{"condition":{"test":"datum.value % 5 === 0","value":4},"value":2},"labelPadding":8,"title":null}}}},
    {"mark":{"type":"point","shape":"M-1,-0.18H-0.18V-1H0.18V-0.18H1V0.18H0.18V1H-0.18V0.18H-1Z","filled":true,"size":55,"color":"black","opacity":1},"encoding":{"x":{"field":"fe","type":"quantitative","scale":{"domain":[0,100],"nice":false,"zero":false},"axis":{"orient":"bottom","values":[0,12.5,25,37.5,50,62.5,75,87.5,100],"labelExpr":"datum.value % 25 === 0 ? datum.label : ''","tickSize":{"condition":{"test":"datum.value % 25 === 0","value":4},"value":2},"labelPadding":10,"title":null}}}}
   ],"resolve":{"scale":{"x":"independent"}}},
  {"width":150,"height":146,"view":{"stroke":null},"data":{"values":[]},"mark":"point"},
  {"width":150,"height":219,"data":{"name":"pts"},"transform":[{"filter":"datum.p==='F4'"}],
   "encoding":{"y":{"field":"d","type":"quantitative","scale":{"domain":[-1.48,5.46],"reverse":true,"nice":false,"zero":false},"axis":{"values":[-1,-0.5,0,0.5,1,1.5,2,2.5,3,3.5,4,4.5,5],"labels":false,"tickSize":{"condition":{"test":"datum.value % 1 === 0","value":4},"value":2},"title":null}}},
   "layer":[
    {"data":{"name":"lines"},"transform":[{"filter":"datum.p==='F4'"}],"mark":{"type":"rule","strokeDash":[11,6],"strokeWidth":1.3},"encoding":{"x":{"datum":0,"type":"quantitative","scale":{"domain":[0,100],"nice":false,"zero":false},"axis":null},"x2":{"datum":93},"color":{"field":"tone","type":"nominal","scale":{"domain":["k","g3","g2","g1"],"range":["#000000","#8c8c8c","#a6a6a6","#cccccc"]},"legend":null}}},
    {"mark":{"type":"point","filled":true,"size":22,"color":"black","opacity":1},"encoding":{"x":{"field":"mn","type":"quantitative","scale":{"domain":[0,20],"nice":false,"zero":false},"axis":{"orient":"top","values":[0,2.5,5,7.5,10,12.5,15,17.5,20],"labelExpr":"datum.value % 5 === 0 ? datum.label : ''","tickSize":{"condition":{"test":"datum.value % 5 === 0","value":4},"value":2},"labelPadding":8,"title":null}},
      "shape":{"datum":"Mn","type":"nominal","scale":{"domain":["Fe","Mn"],"range":["M-1,-0.18H-0.18V-1H0.18V-0.18H1V0.18H0.18V1H-0.18V0.18H-1Z","circle"]},"legend":{"orient":"none","legendX":60,"legendY":279,"title":null,"strokeColor":"black","padding":10,"symbolSize":45,"symbolOffset":12,"labelOffset":18,"labelFontSize":13,"labelFont":"DejaVu Sans","labelColor":"black","rowPadding":6,"symbolFillColor":"black","symbolStrokeColor":"black","symbolStrokeWidth":0}}}},
    {"mark":{"type":"point","filled":true,"size":55,"color":"black","opacity":1},"encoding":{"x":{"field":"fe","type":"quantitative","scale":{"domain":[0,100],"nice":false,"zero":false},"axis":{"orient":"bottom","values":[0,12.5,25,37.5,50,62.5,75,87.5,100],"labelExpr":"datum.value % 25 === 0 ? datum.label : ''","tickSize":{"condition":{"test":"datum.value % 25 === 0","value":4},"value":2},"labelPadding":10,"title":null}},
      "shape":{"datum":"Fe","type":"nominal"}}}
   ],"resolve":{"scale":{"x":"independent"}}}
 ],"spacing":0,"bounds":"flush","resolve":{"scale":{"shape":"independent"},"legend":{"shape":"independent"}}}
],"spacing":0,"resolve":{"scale":{"shape":"independent"},"legend":{"shape":"independent"}}}
],
"spacing":41,
"resolve":{"scale":{"shape":"independent"},"legend":{"shape":"independent"}},
"config":{
 "font":"DejaVu Sans",
 "view":{"stroke":"black","strokeWidth":1},
 "axis":{"labelFont":"DejaVu Sans","labelFontSize":12,"labelColor":"black","titleFont":"DejaVu Sans","titleFontSize":11,"titleFontWeight":"normal","titleColor":"black","tickColor":"black","domainColor":"black","domainWidth":1,"tickWidth":1,"grid":false,"labelFlush":false,"labelOverlap":false},
 "title":{"font":"DejaVu Sans","fontSize":28,"fontWeight":"normal","color":"black","offset":2,"frame":"group","anchor":"middle","baseline":"alphabetic"}
}
}
